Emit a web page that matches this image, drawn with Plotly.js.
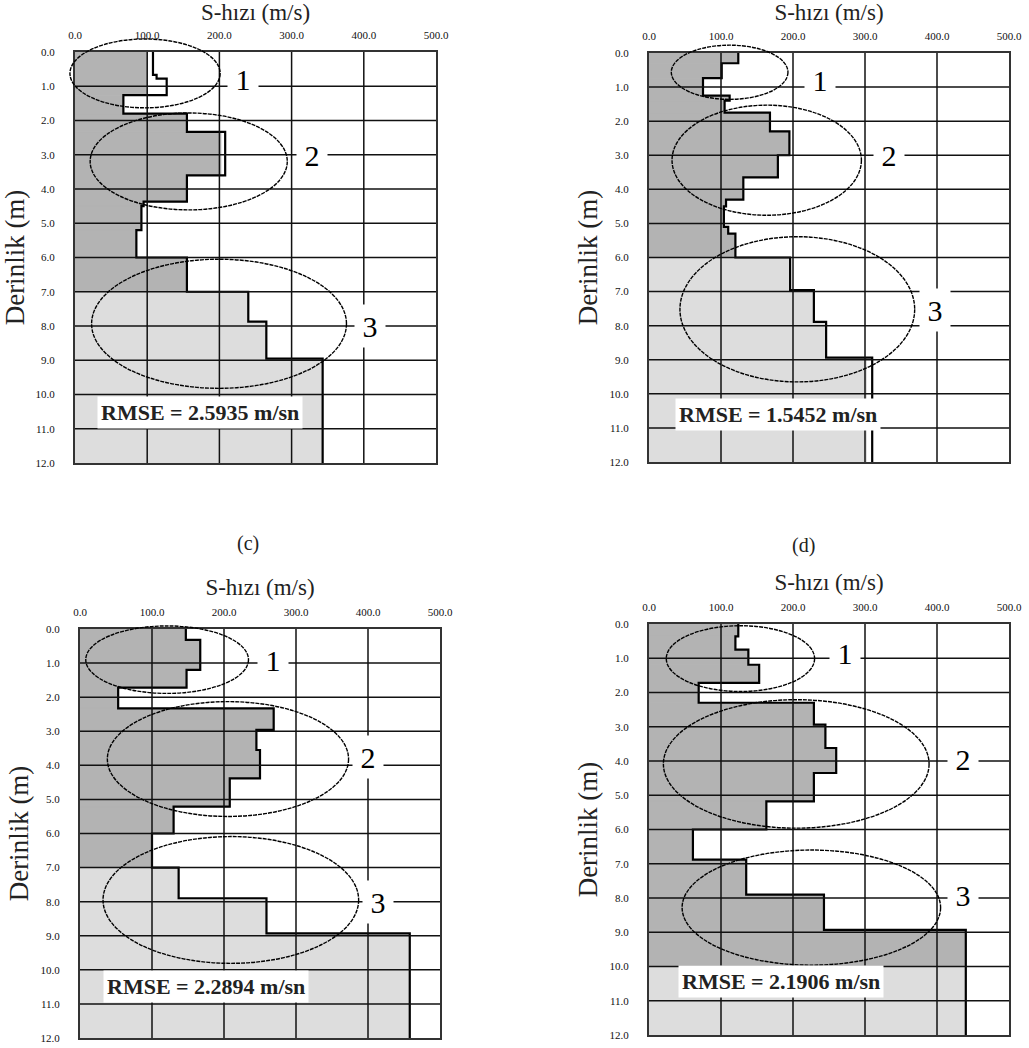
<!DOCTYPE html>
<html>
<head>
<meta charset="utf-8">
<script src="https://cdn.plot.ly/plotly-3.0.1.min.js"></script>
<style>
html,body{margin:0;padding:0;background:#fff;}
#chart{width:1029px;height:1048px;}
</style>
</head>
<body>
<div id="chart"></div>
<script>
// ---------- shared axis data ----------
const velocityTicks = [0, 100, 200, 300, 400, 500];
const depthTicks = [0, 1, 2, 3, 4, 5, 6, 7, 8, 9, 10, 11, 12];
const xTitleText = 'S-hızı (m/s)';
const yTitleText = 'Derinlik (m)';
const maxDepth = 12;
const maxVel = 500;

// ---------- panel (a) ----------
const aLineTops = [0, 0.67, 0.78, 1.26, 1.8, 2.33, 3.6, 4.37, 4.5, 5.2, 6.0, 7.0, 7.87, 8.95];
const aLineVs   = [108, 113, 127, 67, 155, 208, 155, 95, 92, 85, 155, 240, 265, 343];
const aFillTops = [0, 1.26, 1.8, 2.33, 3.6, 4.37, 4.5, 5.2, 6.0, 7.0, 7.87, 8.95];
const aFillVs   = [100, 67, 155, 202, 155, 95, 92, 85, 155, 240, 265, 343];
const aLightFrom = 7.0;
const aRmse = 'RMSE = 2.5935 m/sn';

// ---------- panel (b) ----------
const bLineTops = [0, 0.3, 0.74, 1.25, 1.4, 1.75, 2.3, 3.0, 3.65, 4.3, 4.5, 5.1, 5.3, 6.0, 6.96, 7.89, 8.94];
const bLineVs   = [124, 101, 75, 112, 105, 168, 195, 179, 131, 107, 104, 110, 120, 196, 229, 246, 310];
const bFillTops = [0, 0.3, 0.74, 1.25, 1.4, 1.75, 2.3, 3.0, 3.65, 4.3, 4.5, 5.1, 5.3, 6.0, 6.96, 7.89, 8.94];
const bFillVs   = [124, 101, 75, 112, 105, 168, 195, 179, 131, 107, 104, 110, 120, 194, 229, 246, 302];
const bLightFrom = 6.0;
const bRmse = 'RMSE = 1.5452 m/sn';

// ---------- panel (c) ----------
const cLineTops = [0, 0.32, 1.2, 1.72, 2.33, 2.96, 3.55, 4.38, 5.21, 6.0, 7.0, 7.9, 8.93];
const cLineVs   = [147, 167, 148, 53, 269, 245, 250, 208, 130, 100, 137, 259, 458];
const cFillTops = [0, 0.32, 1.2, 1.72, 2.33, 2.96, 3.55, 4.38, 5.21, 6.0, 7.0, 7.9, 8.93];
const cFillVs   = [147, 167, 148, 53, 269, 245, 250, 208, 130, 100, 137, 259, 458];
const cLightFrom = 7.0;
const cRmse = 'RMSE = 2.2894 m/sn';

// ---------- panel (d) ----------
const dLineTops = [0, 0.36, 0.75, 1.19, 1.72, 2.3, 2.94, 3.62, 4.35, 5.18, 6.0, 6.88, 7.9, 8.93];
const dLineVs   = [124, 120, 138, 153, 69, 229, 245, 260, 229, 163, 61, 135, 243, 440];
const dFillTops = [0, 0.36, 0.75, 1.19, 1.72, 2.3, 2.94, 3.62, 4.35, 5.18, 6.0, 6.88, 7.9, 8.93];
const dFillVs   = [124, 120, 138, 153, 69, 229, 245, 260, 229, 163, 61, 135, 243, 440];
const dLightFrom = 10.0;
const dRmse = 'RMSE = 2.1906 m/sn';

const SERIF = '"Liberation Serif", "Times New Roman", Times, serif';
const DARK = '#b3b3b3';
const LIGHT = '#dddddd';

const panels = [
  {xa:'x',  ya:'y',  lineTops:aLineTops, lineVs:aLineVs, fillTops:aFillTops, fillVs:aFillVs, lightFrom:aLightFrom, rmse:aRmse,
   dom:{x:[75,436], y:[52,463]},
   rmsePos:[173,10.52],
   ellipses:[[-7,201,-0.38,1.63],[21,294,1.78,4.61],[23,376,6.05,9.82]],
   labels:[['1',232,0.8],['2',328,3.0],['3',409,8.0]]},
  {xa:'x2', ya:'y2', lineTops:bLineTops, lineVs:bLineVs, fillTops:bFillTops, fillVs:bFillVs, lightFrom:bLightFrom, rmse:bRmse,
   dom:{x:[649,1009], y:[53,462]},
   rmsePos:[179,10.62],
   ellipses:[[31,193,-0.23,1.36],[32,295,1.53,4.76],[43,369,5.39,9.65]],
   labels:[['1',237,0.78],['2',334,3.0],['3',397,7.55]]},
  {xa:'x3', ya:'y3', lineTops:cLineTops, lineVs:cLineVs, fillTops:cFillTops, fillVs:cFillVs, lightFrom:cLightFrom, rmse:cRmse,
   dom:{x:[80,440], y:[629,1038]},
   rmsePos:[175,10.5],
   ellipses:[[8,234,-0.09,1.89],[38,373,2.13,5.5],[32,387,6.09,9.81]],
   labels:[['1',268,0.9],['2',400,3.75],['3',414,8.0]]},
  {xa:'x4', ya:'y4', lineTops:dLineTops, lineVs:dLineVs, fillTops:dFillTops, fillVs:dFillVs, lightFrom:dLightFrom, rmse:dRmse,
   dom:{x:[649,1009], y:[624,1035]},
   rmsePos:[184,10.45],
   ellipses:[[24,230,0.05,1.97],[20,389,2.21,5.96],[46,405,6.6,9.96]],
   labels:[['1',272,0.86],['2',436,3.95],['3',436,7.9]]}
];

const W = 1029, H = 1048;
const traces = [];
const shapes = [];
const annotations = [];
const layout = {
  width: W, height: H,
  margin: {l:0, r:0, t:0, b:0},
  paper_bgcolor: '#fff', plot_bgcolor: '#fff',
  showlegend: false,
  barmode: 'overlay',
  font: {family: SERIF, color: '#222'}
};

panels.forEach(p => {
  // fill bars (split layers at the dark/light boundary)
  const bx = [], by = [], bw = [], bc = [];
  p.fillTops.forEach((top, i) => {
    const bot = i + 1 < p.fillTops.length ? p.fillTops[i + 1] : maxDepth;
    const cuts = [top];
    if (p.lightFrom > top && p.lightFrom < bot) cuts.push(p.lightFrom);
    cuts.push(bot);
    for (let k = 0; k < cuts.length - 1; k++) {
      const t = cuts[k], b = cuts[k + 1];
      bx.push(p.fillVs[i]);
      by.push((t + b) / 2);
      bw.push(b - t);
      bc.push(t >= p.lightFrom ? LIGHT : DARK);
    }
  });
  traces.push({
    type: 'bar', orientation: 'h', x: bx, y: by, width: bw, base: 0,
    marker: {color: bc, line: {width: 1, color: bc}},
    xaxis: p.xa, yaxis: p.ya, hoverinfo: 'skip'
  });
  // step line
  traces.push({
    type: 'scatter', mode: 'lines',
    x: p.lineVs.concat([p.lineVs[p.lineVs.length - 1]]),
    y: p.lineTops.concat([maxDepth]),
    line: {color: '#000', width: 2.2, shape: 'vh'},
    xaxis: p.xa, yaxis: p.ya, hoverinfo: 'skip'
  });

  const xKey = p.xa === 'x' ? 'xaxis' : 'xaxis' + p.xa.slice(1);
  const yKey = p.ya === 'y' ? 'yaxis' : 'yaxis' + p.ya.slice(1);
  layout[xKey] = {
    domain: [p.dom.x[0] / W, p.dom.x[1] / W], anchor: p.ya, side: 'top',
    range: [0, maxVel], tickvals: velocityTicks, tickformat: '.1f',
    showgrid: false, zeroline: false, showline: true, mirror: true,
    linecolor: '#333', linewidth: 2, ticks: '', ticklabelstandoff: 7,
    tickfont: {family: SERIF, size: 11, color: '#111'},
    title: {text: xTitleText, font: {family: SERIF, size: 23, color: '#222'}, standoff: 4},
    fixedrange: true, automargin: false, layer: 'above traces'
  };
  layout[yKey] = {
    domain: [1 - p.dom.y[1] / H, 1 - p.dom.y[0] / H], anchor: p.xa,
    range: [maxDepth, 0], tickvals: depthTicks, tickformat: '.1f',
    showgrid: false, zeroline: false, showline: true, mirror: true,
    linecolor: '#333', linewidth: 2, ticks: '', ticklabelstandoff: 16,
    tickfont: {family: SERIF, size: 11, color: '#111'},
    title: {text: yTitleText, font: {family: SERIF, size: 27, color: '#222'}, standoff: 4},
    fixedrange: true, automargin: false, layer: 'above traces'
  };

  // grid lines drawn above the fills
  velocityTicks.slice(1, -1).forEach(v => {
    shapes.push({type: 'line', xref: p.xa, yref: p.ya + ' domain', x0: v, x1: v, y0: 0, y1: 1,
      line: {color: '#111', width: 1.5}, layer: 'above'});
  });
  depthTicks.slice(1, -1).forEach(d => {
    shapes.push({type: 'line', xref: p.xa + ' domain', yref: p.ya, x0: 0, x1: 1, y0: d, y1: d,
      line: {color: '#111', width: 1.5}, layer: 'above'});
  });
  // ellipses
  p.ellipses.forEach(e => {
    shapes.push({type: 'circle', xref: p.xa + ' domain', yref: p.ya + ' domain',
      x0: e[0] / maxVel, x1: e[1] / maxVel, y0: 1 - e[3] / maxDepth, y1: 1 - e[2] / maxDepth,
      line: {color: '#000', width: 1.4, dash: '4px,1px'}, layer: 'above'});
  });
  // zone labels
  p.labels.forEach(l => {
    annotations.push({xref: p.xa, yref: p.ya, x: l[1], y: l[2], text: l[0], showarrow: false,
      font: {family: SERIF, size: 30, color: '#000'}, bgcolor: '#fff', width: 30, height: 42, borderpad: 0});
  });
  // RMSE box
  annotations.push({xref: p.xa, yref: p.ya, x: p.rmsePos[0], y: p.rmsePos[1], text: '<b>' + p.rmse + '</b>',
    showarrow: false, font: {family: SERIF, size: 22, color: '#222'}, bgcolor: '#fff', borderpad: 3});
});

// sub-figure labels
annotations.push({xref: 'paper', yref: 'paper', x: 235 / W, y: 1 - 543 / H, text: '(c)', showarrow: false,
  font: {family: SERIF, size: 20, color: '#222'}});
annotations.push({xref: 'paper', yref: 'paper', x: 817 / W, y: 1 - 545 / H, text: '(d)', showarrow: false,
  font: {family: SERIF, size: 20, color: '#222'}});

layout.shapes = shapes;
layout.annotations = annotations;

Plotly.newPlot('chart', traces, layout, {displayModeBar: false, staticPlot: true});
</script>
</body>
</html>
